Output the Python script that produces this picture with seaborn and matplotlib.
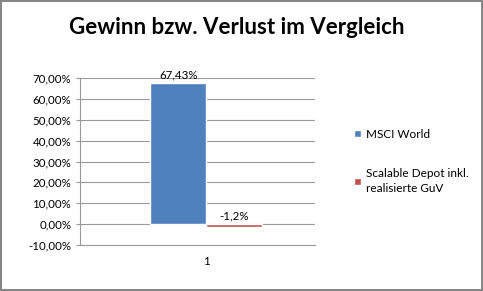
import matplotlib
matplotlib.use("Agg")
import matplotlib.pyplot as plt
import matplotlib.ticker as mticker
import pandas as pd
import seaborn as sns

# Daten
kategorie = ["1", "1"]
serien = ["MSCI World", "Scalable Depot inkl.\nrealisierte GuV"]
werte = [67.43, -1.2]
beschriftung = ["67,43%", "-1,2%"]
farben = ["#4F81BD", "#C0504D"]

df = pd.DataFrame({"kat": kategorie, "serie": serien, "wert": werte})

sns.set_style("white")
plt.rcParams["font.family"] = ["Lato", "DejaVu Sans"]
plt.rcParams["text.color"] = "black"
plt.rcParams["xtick.color"] = "black"
plt.rcParams["ytick.color"] = "black"

fig = plt.figure(figsize=(4.83, 2.91), dpi=100)
fig.patch.set_edgecolor("#868686")
fig.patch.set_linewidth(1.5)
ax = fig.add_axes([0.166, 0.158, 0.487, 0.574])

sns.barplot(data=df, x="kat", y="wert", hue="serie", palette=farben,
            width=0.8, ax=ax, legend=True, saturation=1)

ax.set_ylim(-10, 70)
ax.set_xlim(-0.9, 0.78)
ax.yaxis.set_major_locator(mticker.MultipleLocator(10))
ax.yaxis.set_major_formatter(
    mticker.FuncFormatter(lambda v, p: f"{v:.2f}%".replace(".", ",")))
ax.grid(axis="y", color="#9a9a9a", linewidth=0.8)
ax.set_axisbelow(True)
for s in ["top", "right"]:
    ax.spines[s].set_visible(False)
ax.spines["left"].set_color("#9a9a9a")
ax.spines["bottom"].set_color("#9a9a9a")
ax.tick_params(axis="y", labelsize=8.3, length=3, color="#9a9a9a", left=True)
ax.tick_params(axis="x", labelsize=8.3, length=0, pad=8)
ax.set_xlabel("")
ax.set_ylabel("")

# Datenbeschriftungen
ax.bar_label(ax.containers[0], labels=[beschriftung[0]], fontsize=8.3, padding=2)
ax.bar_label(ax.containers[1], labels=[beschriftung[1]], fontsize=8.3, padding=-12)

fig.suptitle("Gewinn bzw. Verlust im Vergleich", x=0.49, y=0.94,
             fontsize=16, fontweight="bold")

leg = ax.legend(loc="center left", bbox_to_anchor=(1.12, 0.5), frameon=False,
                fontsize=8.5, handlelength=0.6, handleheight=0.6,
                handletextpad=0.4, labelspacing=2.4)
for t in leg.get_texts():
    t.set_linespacing(1.5)

fig.savefig("out.png", dpi=100)
